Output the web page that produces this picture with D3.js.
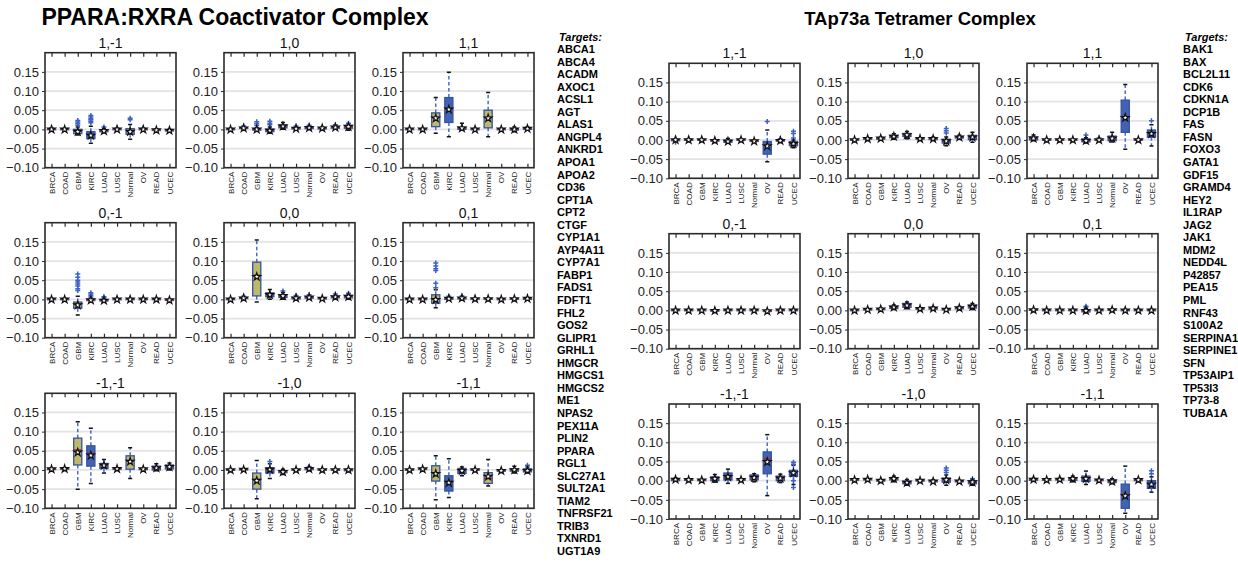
<!DOCTYPE html>
<html>
<head>
<meta charset="utf-8">
<script src="https://cdn.jsdelivr.net/npm/d3@7"></script>
<style>
  html, body { margin: 0; padding: 0; background: #fff; }
  svg { display: block; font-family: "Liberation Sans", Arial, Helvetica, sans-serif; }
</style>
</head>
<body>
<svg id="chart" width="1238" height="565"></svg>
<script>
// Cancer types shown on every panel
const categories = ["BRCA", "COAD", "GBM", "KIRC", "LUAD", "LUSC", "Normal", "OV", "READ", "UCEC"];
const panelTitles = ["1,-1", "1,0", "1,1", "0,-1", "0,0", "0,1", "-1,-1", "-1,0", "-1,1"];
const yTicks = [-0.10, -0.05, 0.00, 0.05, 0.10, 0.15];

// Box statistics per panel, one row per category: [whiskerLow, q1, median, q3, whiskerHigh, mean]
const pparaStats = [
  [ // 1,-1
    [-0.003,-0.001,0,0.001,0.003,0], [-0.003,-0.001,0,0.001,0.002,0], [-0.015,-0.011,-0.005,0.0,0.006,-0.006],
    [-0.036,-0.024,-0.015,-0.006,0.008,-0.016], [-0.008,-0.006,-0.004,-0.001,0.002,-0.004], [-0.002,-0.001,0,0.001,0.002,0],
    [-0.026,-0.013,-0.006,0.002,0.013,-0.006], [-0.002,-0.001,0,0.001,0.002,0], [-0.004,-0.003,-0.002,-0.001,0.001,-0.002],
    [-0.005,-0.004,-0.003,-0.002,0,-0.003]
  ],
  [ // 1,0
    [-0.002,-0.001,0,0.001,0.002,0], [0,0.002,0.003,0.005,0.007,0.003], [-0.004,-0.002,0,0.002,0.005,0],
    [-0.01,-0.006,-0.003,0.001,0.006,-0.003], [0,0.004,0.008,0.012,0.018,0.008], [-0.001,0.001,0.002,0.004,0.006,0.002],
    [0,0.002,0.004,0.006,0.009,0.004], [0,0.001,0.003,0.004,0.006,0.003], [0,0.003,0.005,0.007,0.01,0.005],
    [-0.002,0.003,0.007,0.01,0.014,0.007]
  ],
  [ // 1,1
    [-0.002,-0.001,0,0.001,0.002,0], [-0.002,-0.001,0,0.001,0.002,0], [-0.01,0.007,0.031,0.043,0.083,0.029],
    [-0.019,0.018,0.055,0.083,0.149,0.052], [-0.002,0,0.003,0.006,0.016,0.003], [-0.002,-0.001,0,0.001,0.002,0],
    [-0.019,0.004,0.031,0.05,0.096,0.029], [-0.002,-0.001,0,0.001,0.002,0], [-0.006,-0.002,0,0.002,0.006,0],
    [-0.001,0,0.002,0.004,0.006,0.002]
  ],
  [ // 0,-1
    [-0.002,-0.001,0,0.001,0.002,0], [-0.002,-0.001,0,0.001,0.002,0], [-0.041,-0.023,-0.012,-0.007,0.008,-0.015],
    [-0.005,-0.003,-0.002,0,0.003,-0.002], [-0.006,-0.004,-0.003,-0.001,0.001,-0.003], [-0.002,-0.001,0,0.001,0.002,0],
    [-0.002,-0.001,0,0.001,0.002,0], [-0.002,-0.001,0,0.001,0.002,0], [-0.002,-0.001,0,0.001,0.002,0],
    [-0.004,-0.003,-0.002,-0.001,0,-0.002]
  ],
  [ // 0,0
    [-0.002,-0.001,0,0.001,0.002,0], [0,0.002,0.003,0.005,0.006,0.003], [-0.007,0.009,0.063,0.097,0.155,0.059],
    [0,0.007,0.012,0.017,0.026,0.012], [0,0.005,0.009,0.012,0.017,0.009], [-0.002,0.001,0.003,0.005,0.007,0.003],
    [0,0.003,0.005,0.007,0.009,0.005], [0,0.001,0.002,0.003,0.004,0.002], [0,0.004,0.006,0.008,0.01,0.006],
    [0,0.004,0.007,0.01,0.012,0.007]
  ],
  [ // 0,1
    [-0.002,-0.001,0,0.001,0.002,0], [-0.002,-0.001,0,0.001,0.002,0], [-0.022,-0.01,0,0.012,0.025,-0.001],
    [-0.002,0,0.002,0.003,0.005,0.002], [-0.001,0.001,0.003,0.004,0.006,0.003], [-0.001,0,0.001,0.002,0.003,0.001],
    [-0.001,0,0.001,0.002,0.003,0.001], [-0.002,-0.001,0,0.001,0.002,0], [-0.001,0,0.001,0.002,0.003,0.001],
    [-0.002,0,0.002,0.003,0.005,0.002]
  ],
  [ // -1,-1
    [0,0.001,0.002,0.003,0.004,0.002], [0,0.002,0.003,0.004,0.006,0.003], [-0.05,0.013,0.052,0.083,0.126,0.046],
    [-0.035,0.01,0.043,0.063,0.109,0.038], [-0.008,0.004,0.012,0.017,0.027,0.012], [0,0.002,0.003,0.004,0.006,0.003],
    [-0.022,0.002,0.024,0.037,0.058,0.022], [0,0.001,0.002,0.003,0.004,0.002], [-0.002,0,0.005,0.01,0.016,0.005],
    [0,0.003,0.008,0.013,0.018,0.008]
  ],
  [ // -1,0
    [-0.002,-0.001,0,0.001,0.002,0], [-0.001,0,0.001,0.002,0.003,0.001], [-0.075,-0.05,-0.025,-0.008,0.025,-0.028],
    [-0.022,-0.008,0,0.006,0.016,0.001], [-0.012,-0.007,-0.005,-0.002,0.002,-0.005], [-0.002,-0.001,0,0.001,0.002,0],
    [-0.002,0.001,0.003,0.004,0.006,0.003], [-0.002,-0.001,0,0.001,0.002,0], [-0.002,-0.001,0,0.001,0.002,0],
    [-0.004,-0.002,0,0.001,0.003,0]
  ],
  [ // -1,1
    [-0.002,-0.001,0,0.001,0.002,0], [0,0.001,0.002,0.003,0.004,0.002], [-0.078,-0.029,-0.007,0.011,0.037,-0.01],
    [-0.072,-0.055,-0.037,-0.015,0.029,-0.033], [-0.015,-0.009,-0.002,0.004,0.008,-0.002], [-0.002,-0.001,0,0.001,0.002,0],
    [-0.042,-0.035,-0.022,-0.007,0.027,-0.017], [-0.004,-0.003,-0.002,-0.001,0,-0.002], [-0.008,-0.003,0,0.003,0.01,0],
    [-0.008,-0.005,-0.002,0.003,0.008,-0.002]
  ]
];

// Outlying points per panel and category
const pparaOutliers = [
  [[0.003], [], [0.011,0.015,0.019,0.023], [0.017,0.021,0.025,0.028,0.032,0.036], [0.006], [0.003], [0.025,0.029], [0.003], [], []],
  [[], [0.009], [0.011,0.015,0.02], [0.012,0.016,0.021], [], [0.009], [0.011], [], [0.012], [0.016]],
  [[], [], [], [], [], [], [], [], [], []],
  [[], [], [0.023,0.028,0.035,0.04,0.045,0.05,0.058,0.066], [0.006,0.01,0.014,0.017], [0.004,0.007], [], [], [], [], []],
  [[], [0.008], [], [], [0.022], [0.01], [0.012], [], [0.014], [0.016]],
  [[], [], [0.03,0.042,0.075,0.08,0.087,0.095], [0.008], [0.009], [], [], [], [], []],
  [[], [], [], [], [], [], [], [], [], []],
  [[], [], [], [0.022], [], [], [0.009], [], [], []],
  [[], [], [], [], [], [], [], [], [], [0.012]]
];

const tap73Stats = [
  [ // 1,-1
    [-0.003,-0.002,0,0.001,0.002,0], [-0.002,-0.001,0,0.001,0.002,0], [-0.002,-0.001,0,0.001,0.002,0],
    [-0.004,-0.003,-0.002,-0.001,0,-0.002], [-0.008,-0.006,-0.003,0,0.004,-0.004], [-0.002,-0.001,0,0.001,0.002,0],
    [-0.005,-0.004,-0.003,-0.002,-0.001,-0.003], [-0.057,-0.037,-0.013,-0.004,0.026,-0.016], [-0.004,-0.003,-0.002,-0.001,0.001,-0.002],
    [-0.02,-0.015,-0.01,-0.004,0,-0.01]
  ],
  [ // 1,0
    [-0.002,-0.001,0,0.001,0.002,0], [0,0.002,0.003,0.004,0.006,0.003], [0,0.002,0.004,0.005,0.007,0.004],
    [0.002,0.006,0.009,0.012,0.016,0.009], [0.003,0.009,0.013,0.017,0.022,0.013], [0,0.002,0.003,0.004,0.005,0.003],
    [0,0.001,0.003,0.005,0.007,0.003], [-0.015,-0.008,-0.003,0.002,0.008,-0.003], [0.002,0.005,0.007,0.009,0.012,0.007],
    [-0.006,0.001,0.007,0.012,0.02,0.007]
  ],
  [ // 1,1
    [-0.002,0,0.004,0.008,0.013,0.004], [-0.002,-0.001,0,0.001,0.002,0], [-0.002,-0.001,0,0.001,0.002,0],
    [-0.002,-0.001,0,0.001,0.002,0], [-0.008,-0.005,-0.002,0.003,0.006,-0.002], [-0.002,-0.001,0,0.001,0.002,0],
    [-0.005,-0.002,0.004,0.01,0.02,0.004], [-0.024,0.02,0.061,0.104,0.145,0.058], [-0.002,-0.001,0,0.001,0.002,0],
    [-0.016,0.007,0.017,0.026,0.04,0.016]
  ],
  [ // 0,-1
    [-0.002,-0.001,0,0.001,0.002,0], [-0.002,-0.001,0,0.001,0.002,0], [-0.002,-0.001,0,0.001,0.002,0],
    [-0.003,-0.002,-0.001,0,0.001,-0.001], [-0.002,-0.001,0,0.001,0.002,0], [-0.002,-0.001,0,0.001,0.002,0],
    [-0.002,-0.001,0,0.001,0.002,0], [-0.004,-0.003,-0.002,-0.001,0,-0.002], [-0.002,-0.001,0,0.001,0.002,0],
    [-0.002,-0.001,0,0.001,0.002,0]
  ],
  [ // 0,0
    [-0.002,-0.001,0,0.001,0.002,0], [0,0.001,0.002,0.003,0.004,0.002], [0,0.002,0.003,0.004,0.006,0.003],
    [0.002,0.005,0.008,0.011,0.014,0.008], [0.004,0.008,0.013,0.018,0.022,0.013], [0.001,0.003,0.004,0.005,0.007,0.004],
    [0.001,0.003,0.005,0.007,0.009,0.005], [0,0.001,0.002,0.003,0.004,0.002], [0.002,0.004,0.006,0.008,0.01,0.006],
    [0.002,0.006,0.01,0.014,0.018,0.01]
  ],
  [ // 0,1
    [-0.001,0,0.001,0.002,0.003,0.001], [-0.002,-0.001,0,0.001,0.002,0], [-0.002,-0.001,0,0.001,0.002,0],
    [-0.002,-0.001,0,0.001,0.002,0], [-0.007,-0.004,-0.001,0.002,0.005,-0.001], [-0.002,-0.001,0,0.001,0.002,0],
    [-0.001,0,0.001,0.002,0.003,0.001], [-0.002,-0.001,0,0.001,0.002,0], [-0.002,-0.001,0,0.001,0.002,0],
    [-0.002,-0.001,0,0.001,0.002,0]
  ],
  [ // -1,-1
    [-0.001,0,0.003,0.005,0.007,0.003], [0,0.001,0.002,0.003,0.005,0.002], [-0.001,0,0.001,0.002,0.003,0.001],
    [-0.004,0,0.005,0.01,0.016,0.005], [-0.007,0.002,0.01,0.02,0.03,0.01], [0,0.001,0.002,0.003,0.004,0.002],
    [-0.003,0.002,0.008,0.015,0.018,0.008], [-0.039,0.018,0.057,0.075,0.12,0.049], [-0.005,0,0.007,0.012,0.017,0.006],
    [-0.01,0.011,0.022,0.027,0.04,0.02]
  ],
  [ // -1,0
    [0,0.001,0.002,0.003,0.004,0.002], [0,0.002,0.003,0.004,0.005,0.003], [-0.002,-0.001,0,0.001,0.002,0],
    [-0.003,0.002,0.005,0.008,0.012,0.005], [-0.012,-0.008,-0.005,-0.001,0.003,-0.005], [-0.002,-0.001,0,0.001,0.002,0],
    [-0.004,-0.003,-0.002,0,0.002,-0.002], [-0.012,-0.004,0.002,0.007,0.015,0.002], [-0.004,-0.003,-0.002,-0.001,0,-0.002],
    [-0.012,-0.008,-0.004,0,0.003,-0.004]
  ],
  [ // -1,1
    [0,0.001,0.003,0.004,0.006,0.003], [0,0.001,0.002,0.003,0.005,0.002], [0,0.002,0.003,0.004,0.006,0.003],
    [-0.003,0.001,0.005,0.008,0.012,0.005], [-0.01,-0.002,0.005,0.012,0.025,0.005], [-0.001,0,0.001,0.002,0.003,0.001],
    [-0.008,-0.005,-0.002,0.002,0.005,-0.002], [-0.085,-0.072,-0.035,-0.009,0.038,-0.04], [-0.002,0,0.002,0.003,0.005,0.002],
    [-0.03,-0.02,-0.008,0,0.01,-0.01]
  ]
];

const tap73Outliers = [
  [[-0.006,0.003], [0.003], [], [], [], [], [], [0.048], [0.003], [0.005,0.017,0.023]],
  [[], [], [], [], [], [], [], [0.018,0.024,0.03], [], []],
  [[], [], [], [], [0.013], [0.005], [], [], [], [0.05]],
  [[], [], [], [], [], [], [], [], [], []],
  [[], [], [], [], [], [], [], [], [], []],
  [[], [], [], [], [0.008,0.011], [], [], [], [], []],
  [[], [], [], [], [], [], [], [], [], [-0.018,0,0.043,0.048]],
  [[], [], [], [], [], [], [], [0.021,0.027,0.033], [], [0.005]],
  [[], [], [], [], [], [], [], [], [], [0.018,0.026]]
];

// Box fill per category: "y" = khaki, "b" = blue
const pparaFill = ["b", "b", "y", "b", "b", "b", "y", "b", "b", "b"];
const tap73Fill = ["b", "b", "b", "b", "b", "b", "b", "b", "b", "b"];

const pparaTargets = ["ABCA1","ABCA4","ACADM","AXOC1","ACSL1","AGT","ALAS1","ANGPL4","ANKRD1","APOA1","APOA2","CD36",
  "CPT1A","CPT2","CTGF","CYP1A1","AYP4A11","CYP7A1","FABP1","FADS1","FDFT1","FHL2","GOS2","GLIPR1","GRHL1","HMGCR",
  "HMGCS1","HMGCS2","ME1","NPAS2","PEX11A","PLIN2","PPARA","RGL1","SLC27A1","SULT2A1","TIAM2","TNFRSF21","TRIB3",
  "TXNRD1","UGT1A9"];
const tap73Targets = ["BAK1","BAX","BCL2L11","CDK6","CDKN1A","DCP1B","FAS","FASN","FOXO3","GATA1","GDF15","GRAMD4",
  "HEY2","IL1RAP","JAG2","JAK1","MDM2","NEDD4L","P42857","PEA15","PML","RNF43","S100A2","SERPINA1","SERPINE1","SFN",
  "TP53AIP1","TP53I3","TP73-8","TUBA1A"];

// ---- layout ----
const svg = d3.select("#chart");
const W = 131, H = 115;
const colors = {
  b: "#4262b2", y: "#bdb86c", edge: "#3552a3", whisker: "#4a6cc4",
  median: "#a2322c", cap: "#111", flier: "#3d62c6", grid: "#e3e3e3", frame: "#2b2b2b"
};

const groups = [
  { title: "PPARA:RXRA Coactivator Complex", titleX: 235, titleSize: 23, cols: [45, 224, 403], rows: [52.7, 222.7, 393.3],
    stats: pparaStats, outliers: pparaOutliers, fill: pparaFill, targets: pparaTargets, listX: 557 },
  { title: "TAp73a Tetramer Complex", titleX: 920, titleSize: 18.5, cols: [669, 848, 1027], rows: [63.3, 233.7, 404],
    stats: tap73Stats, outliers: tap73Outliers, fill: tap73Fill, targets: tap73Targets, listX: 1183 }
];

const x = d3.scalePoint().domain(categories).range([0, W]).padding(0.5);
const y = d3.scaleLinear().domain([-0.1, 0.2]).range([H, 0]);
const boxW = x.step() * 0.62;
const capW = boxW * 0.5;
const fmt = d3.format(".2f");
const star = d3.symbol().type(d3.symbolStar).size(18);

groups.forEach((g, gi) => {
  svg.append("text")
    .attr("x", g.titleX).attr("y", 25)
    .attr("text-anchor", "middle")
    .style("font-size", g.titleSize + "px").style("font-weight", "bold")
    .text(g.title);

  // list of target genes
  const list = svg.append("g").attr("transform", `translate(${g.listX},0)`)
    .style("font-size", "11px").style("font-weight", "bold");
  list.append("text").attr("x", 2).attr("y", 41).style("font-style", "italic").text("Targets:");
  list.selectAll("text.t").data(g.targets).join("text")
    .attr("class", "t")
    .attr("x", 0).attr("y", (d, i) => 53 + i * 12.55)
    .text(d => d);

  panelTitles.forEach((pt, pi) => {
    const px = g.cols[pi % 3], py = g.rows[Math.floor(pi / 3)];
    const p = svg.append("g").attr("transform", `translate(${px},${py})`);
    const clipId = `clip-${gi}-${pi}`;
    p.append("clipPath").attr("id", clipId).append("rect").attr("width", W).attr("height", H);

    // horizontal grid
    p.append("g").selectAll("line").data(yTicks).join("line")
      .attr("x1", 0).attr("x2", W)
      .attr("y1", d => y(d)).attr("y2", d => y(d))
      .attr("stroke", colors.grid).attr("stroke-width", 1.8);

    // y axis labels with outward ticks
    const ya = d3.axisLeft(y).tickValues(yTicks).tickSize(3).tickPadding(3).tickFormat(fmt);
    const yg = p.append("g").call(ya);
    yg.select(".domain").remove();
    yg.selectAll("line").attr("stroke", colors.frame).attr("stroke-width", 1);
    yg.selectAll("text").style("font-size", "13px").style("font-family", '"Liberation Sans", Arial, sans-serif').attr("fill", "#222");

    // x axis: inward ticks on bottom and top, rotated labels
    const xa = d3.axisBottom(x).tickSize(-4).tickPadding(0);
    const xg = p.append("g").attr("transform", `translate(0,${H})`).call(xa);
    xg.select(".domain").remove();
    xg.selectAll("line").attr("stroke", colors.frame).attr("stroke-width", 1.2);
    xg.selectAll("text")
      .attr("transform", "rotate(-90)")
      .attr("x", -4).attr("y", 0).attr("dy", "0.33em")
      .attr("text-anchor", "end")
      .style("font-size", "8px").attr("fill", "#222");
    const xt = d3.axisTop(x).tickSize(-4).tickFormat("");
    const xtg = p.append("g").call(xt);
    xtg.select(".domain").remove();
    xtg.selectAll("line").attr("stroke", colors.frame).attr("stroke-width", 1.2);

    // panel title
    p.append("text").attr("x", W / 2).attr("y", -5)
      .attr("text-anchor", "middle").style("font-size", "14px").attr("fill", "#111")
      .text(pt);

    // boxes
    const plot = p.append("g").attr("clip-path", `url(#${clipId})`);
    const rows = g.stats[pi].map((s, ci) => ({
      cat: categories[ci], wlo: s[0], q1: s[1], med: s[2], q3: s[3], whi: s[4], mean: s[5],
      fill: colors[g.fill[ci]], out: g.outliers[pi][ci]
    }));
    const b = plot.selectAll("g.box").data(rows).join("g").attr("class", "box")
      .attr("transform", d => `translate(${x(d.cat)},0)`);

    b.append("line").attr("y1", d => y(d.q3)).attr("y2", d => y(d.whi))
      .attr("stroke", colors.whisker).attr("stroke-width", 1.5).attr("stroke-dasharray", "3.5,2.5");
    b.append("line").attr("y1", d => y(d.q1)).attr("y2", d => y(d.wlo))
      .attr("stroke", colors.whisker).attr("stroke-width", 1.5).attr("stroke-dasharray", "3.5,2.5");
    b.append("line").attr("x1", -capW / 2).attr("x2", capW / 2)
      .attr("y1", d => y(d.whi)).attr("y2", d => y(d.whi))
      .attr("stroke", colors.cap).attr("stroke-width", 1.5);
    b.append("line").attr("x1", -capW / 2).attr("x2", capW / 2)
      .attr("y1", d => y(d.wlo)).attr("y2", d => y(d.wlo))
      .attr("stroke", colors.cap).attr("stroke-width", 1.5);
    b.append("rect")
      .attr("x", -boxW / 2).attr("width", boxW)
      .attr("y", d => y(d.q3)).attr("height", d => Math.max(0.5, y(d.q1) - y(d.q3)))
      .attr("fill", d => d.fill).attr("stroke", colors.edge).attr("stroke-width", 1.3);
    b.append("line").attr("x1", -boxW / 2).attr("x2", boxW / 2)
      .attr("y1", d => y(d.med)).attr("y2", d => y(d.med))
      .attr("stroke", colors.median).attr("stroke-width", 1.5);
    b.selectAll("path.flier").data(d => d.out).join("path").attr("class", "flier")
      .attr("d", "M-2.5,0H2.5M0,-2.5V2.5")
      .attr("transform", v => `translate(0,${y(v)})`)
      .attr("stroke", colors.flier).attr("stroke-width", 1.5).attr("fill", "none");
    b.append("path").attr("d", star)
      .attr("transform", d => `translate(0,${y(d.mean)})`)
      .attr("fill", "#fff").attr("stroke", "#111").attr("stroke-width", 1.2);

    // frame
    p.append("rect").attr("width", W).attr("height", H)
      .attr("fill", "none").attr("stroke", colors.frame).attr("stroke-width", 1.6);
  });
});
</script>
</body>
</html>
